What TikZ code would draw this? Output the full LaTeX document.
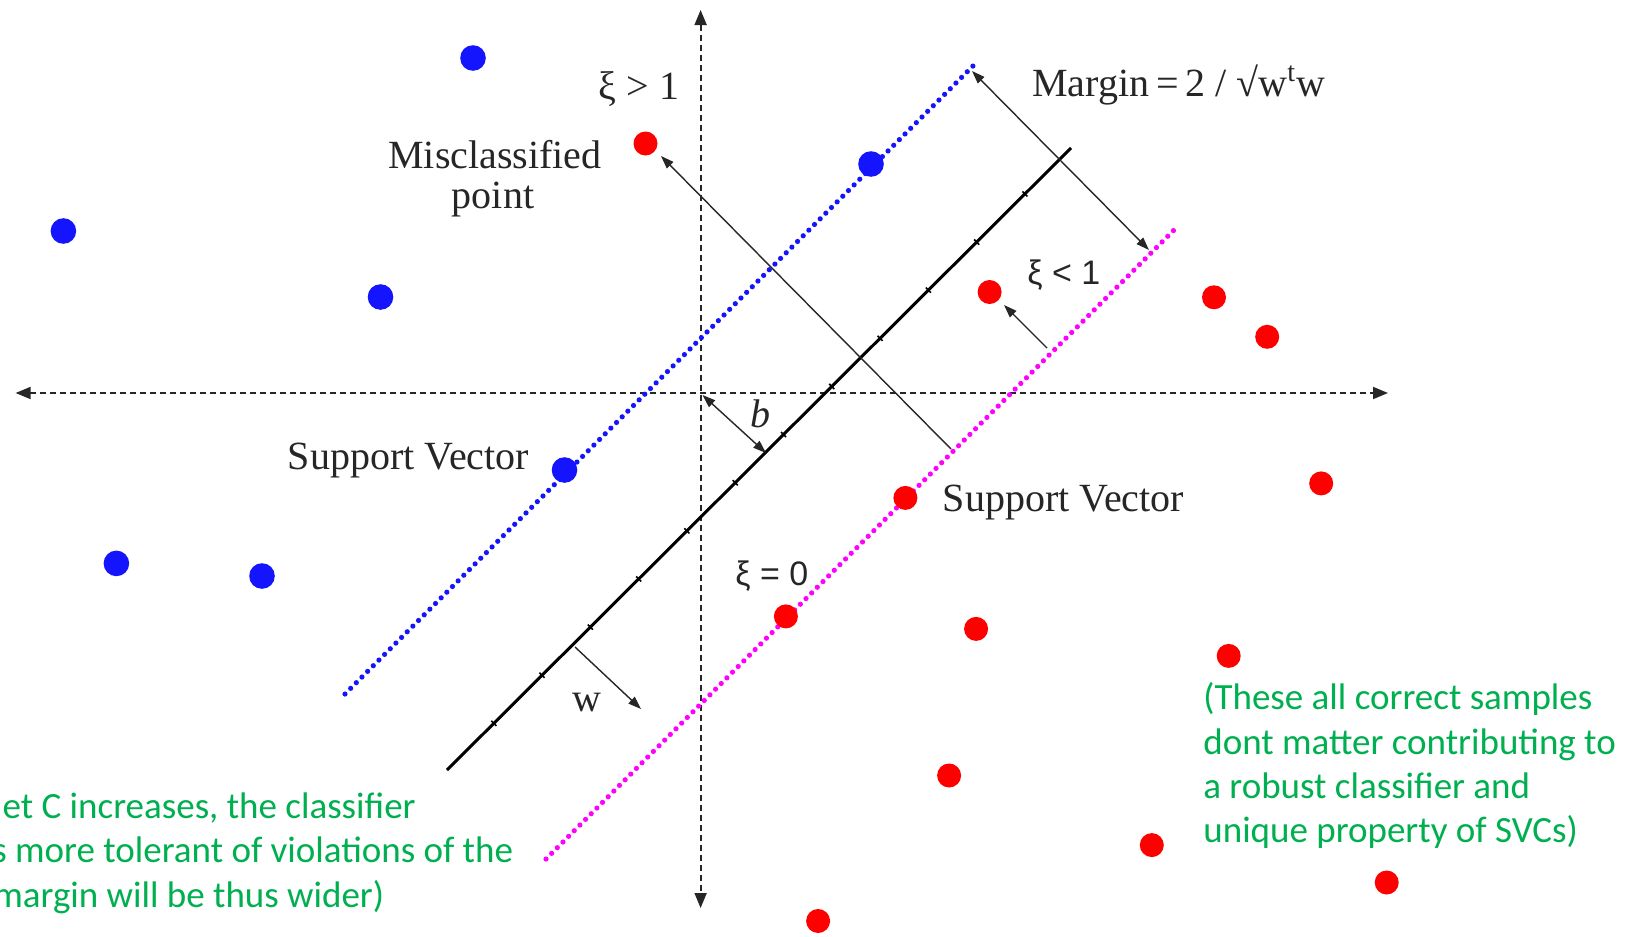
\documentclass[tikz,border=0pt]{standalone}
\usepackage{fontspec}
\setmainfont{Liberation Serif}
\newfontfamily\calibf{Carlito}
\newfontfamily\arialf{Liberation Sans}
\usetikzlibrary{arrows.meta,decorations.markings}
\definecolor{ogreen}{RGB}{0,176,80}
\definecolor{magdot}{RGB}{255,0,255}
\definecolor{bluedot}{RGB}{20,20,255}
\begin{document}
\begin{tikzpicture}[x=0.5pt,y=-0.5pt,
  axisline/.style={draw=black!85, line width=0.9pt, dash pattern=on 3pt off 2pt,
    {Triangle[length=7.5pt,width=6pt]}-{Triangle[length=7.5pt,width=6pt]}},
  hyper/.style={draw=black, line width=1.5pt,
    postaction={decorate, decoration={markings,
      mark=between positions 0.075 and 0.93 step 0.0774 with {\draw[line width=0.8pt] (0pt,-1.8pt) -- (0pt,1.8pt);}}}},
  dotline/.style={line width=2.6pt, line cap=round, dash pattern=on 0pt off 4pt},
  thinarrow/.style={draw=black!85, line width=0.7pt, -{Triangle[length=6.5pt,width=4.5pt]}},
  thinboth/.style={draw=black!85, line width=0.7pt, {Triangle[length=6.5pt,width=4.5pt]}-{Triangle[length=6.5pt,width=4.5pt]}},
  bpt/.style={circle, fill=bluedot, inner sep=0pt, minimum size=12.8pt},
  rpt/.style={circle, fill=red, inner sep=0pt, minimum size=12pt},
  lab/.style={font=\fontsize{20}{24}\selectfont, text=black!85, inner sep=0pt},
  sanslab/.style={font=\arialf\fontsize{17}{20}\selectfont, text=black!85, inner sep=0pt},
  greentxt/.style={font=\calibf\fontsize{18.5}{22}\selectfont, text=ogreen, inner sep=0pt}]
\useasboundingbox (0,0) rectangle (1630,937);
\fill[white] (0,0) rectangle (1630,937);

% axes
\coordinate (axL) at (15.6,393);
\coordinate (axR) at (1388,393);
\coordinate (axT) at (700.6,10);
\coordinate (axB) at (700.6,908);
\coordinate (orig) at (702.5,395);
\draw[axisline] (axL) -- (axR);
\draw[axisline] (axT) -- (axB);

% hyperplane and margins
\coordinate (hA) at (447,770);
\coordinate (hB) at (1071,148);
\coordinate (bA) at (345,694);
\coordinate (bB) at (977,62);
\coordinate (mA) at (546,859);
\coordinate (mB) at (1178,226);
\draw[dotline, bluedot] (bA) -- (bB);
\draw[dotline, magdot] (mA) -- (mB);
\draw[hyper] (hA) -- (hB);

% arrows
\coordinate (mgA) at (972,71);
\coordinate (mgB) at (1149,250);
\draw[thinboth] (mgA) -- (mgB);
\coordinate (misA) at (951,449);
\coordinate (misB) at (661,156);
\draw[thinarrow] (misA) -- (misB);
\coordinate (bEnd) at (766,453);
\draw[thinboth] (orig) -- (bEnd);
\coordinate (wA) at (575,647);
\coordinate (wB) at (641,709);
\draw[thinarrow] (wA) -- (wB);
\coordinate (xA) at (1047,348);
\coordinate (xB) at (1004,305);
\draw[thinarrow] (xA) -- (xB);

% blue points
\node[bpt] (b1) at (473,58) {};
\node[bpt] (b2) at (63.4,231) {};
\node[bpt] (b3) at (380.5,297) {};
\node[bpt] (b4) at (871,164) {};
\node[bpt] (b5) at (564.5,470) {};
\node[bpt] (b6) at (116.4,563.4) {};
\node[bpt] (b7) at (262,576) {};

% red points
\node[rpt] (r1) at (645.5,143.5) {};
\node[rpt] (r2) at (989.6,292) {};
\node[rpt] (r3) at (1214,297.3) {};
\node[rpt] (r4) at (1267.2,336.8) {};
\node[rpt] (r5) at (1321.2,483.4) {};
\node[rpt] (r6) at (905.4,497.9) {};
\node[rpt] (r7) at (785.9,616.4) {};
\node[rpt] (r8) at (976.1,628.9) {};
\node[rpt] (r9) at (1228.7,655.9) {};
\node[rpt] (r10) at (949.1,775.5) {};
\node[rpt] (r11) at (1151.8,845.1) {};
\node[rpt] (r12) at (1386.7,882.5) {};
\node[rpt] (r13) at (818.1,921) {};

% labels
\node[lab] (xgt) at (639,89) {ξ > 1};
\node[lab] (mis) at (495,155) {Misclassified};
\node[lab] (pnt) at (493,200) {point};
\node[lab, anchor=west] (marg) at (1032,85) {Margin\,=\,2 / √w\textsuperscript{t}w};
\node[sanslab, anchor=west] (xlt) at (1027,275) {ξ < 1};
\node[sanslab, anchor=west] (xeq) at (735,576) {ξ = 0};
\node[lab, font=\fontsize{20}{24}\selectfont\itshape] (blab) at (760,414) {b};
\node[lab] (sv1) at (408.5,461) {Support Vector};
\node[lab] (sv2) at (1063.5,503) {Support Vector};
\node[lab] (wlab) at (587,703) {w};

% green notes
\node[greentxt, anchor=base west] (g1) at (1203,709.6) {(These all correct samples};
\node[greentxt, anchor=base west] (g2) at (1203,754.3) {dont matter contributing to};
\node[greentxt, anchor=base west] (g3) at (1203,798) {a robust classifier and};
\node[greentxt, anchor=base west] (g4) at (1203,842.6) {unique property of SVCs)};
\node[greentxt, anchor=base east] (l1) at (416,818.7) {et C increases, the classifier};
\node[greentxt, anchor=base east] (l2) at (513.5,862.4) {s more tolerant of violations of the};
\node[greentxt, anchor=base east] (l3) at (384.6,907) {margin will be thus wider)};
\end{tikzpicture}
\end{document}
